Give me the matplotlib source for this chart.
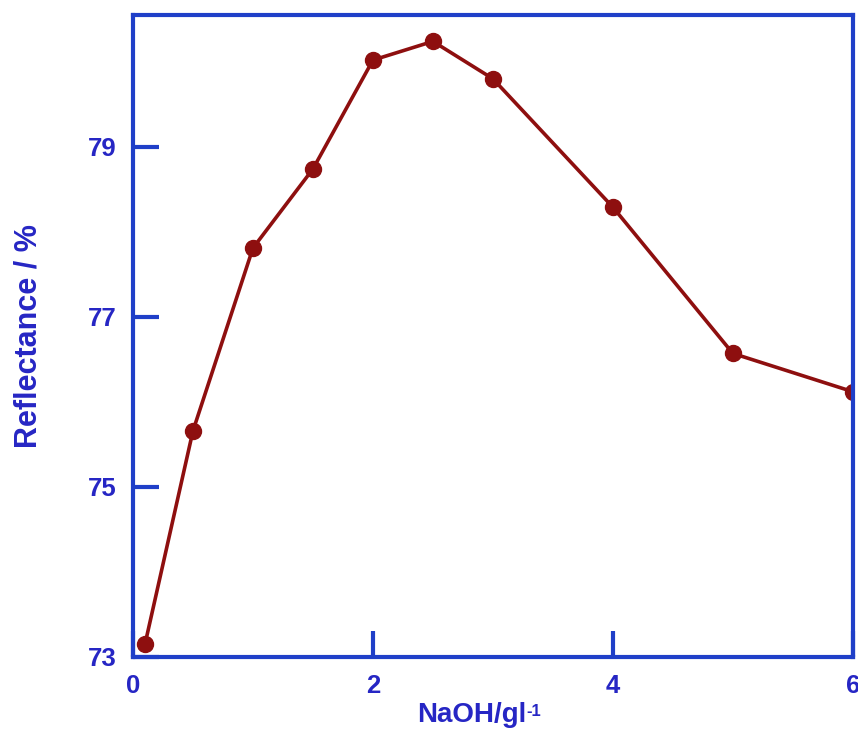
import numpy as np
import matplotlib.pyplot as plt

plt.rcParams['font.family'] = ['Liberation Sans', 'DejaVu Sans']

naoh = [0.1, 0.5, 1.0, 1.5, 2.0, 2.5, 3.0, 4.0, 5.0, 6.0]
reflectance = [73.15, 75.66, 77.81, 78.74, 80.02, 80.24, 79.80, 78.29, 76.57, 76.12]

xticks = [0, 2, 4, 6]
yticks = [73, 75, 77, 79]

blue = "#1f3fc8"
txt = "#2626c4"
red = "#8e0f0f"

fig = plt.figure(figsize=(8.58, 7.33), dpi=100)
ax = fig.add_axes([0.155, 0.1037, 0.839, 0.8758])

ax.plot(naoh, reflectance, color=red, lw=2.6, marker="o", ms=11.5,
        markerfacecolor=red, markeredgecolor=red)

ax.set_xlim(0, 6)
ax.set_ylim(73, 80.55)
ax.set_xticks(xticks)
ax.set_yticks(yticks)

for s in ax.spines.values():
    s.set_color(blue)
    s.set_linewidth(3)

ax.tick_params(direction="in", length=18.5, width=3, color=blue,
               labelcolor=txt, labelsize=18.5)
ax.tick_params(axis="x", pad=12)
ax.tick_params(axis="y", pad=12)
for lab in ax.get_xticklabels() + ax.get_yticklabels():
    lab.set_fontweight("bold")

# x label, superscript as a separate small text
ax.set_xlabel("NaOH/gl", color=txt, fontsize=20, fontweight="bold", labelpad=4)
ax.xaxis.set_label_coords(0.47, -0.07)
fig.canvas.draw()
bb = ax.xaxis.label.get_window_extent()
fig.text(bb.x1 / fig.bbox.width + 0.001, (bb.y1 - 2) / fig.bbox.height, "-1",
         ha="left", va="top", color=txt, fontsize=12, fontweight="bold")

ax.set_ylabel("Reflectance / %", color=txt, fontsize=22,
              fontweight="bold", labelpad=32)

fig.savefig("out.png", dpi=100)
